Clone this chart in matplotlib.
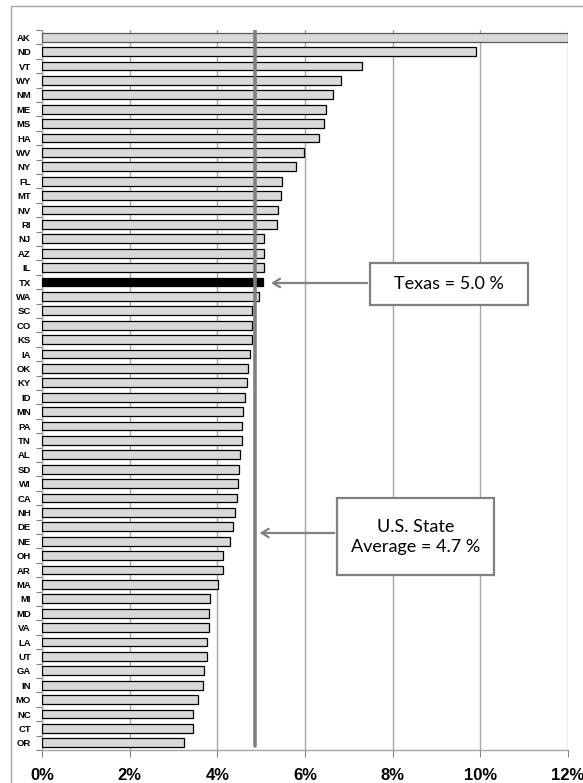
import matplotlib.pyplot as plt
from matplotlib.patches import Rectangle

plt.rcParams['font.family'] = ['Lato', 'DejaVu Sans']
BOLD = ['Liberation Sans', 'DejaVu Sans']

# state values (percent), top to bottom as shown
states = ["AK", "ND", "VT", "WY", "NM", "ME", "MS", "HA", "WV", "NY",
          "FL", "MT", "NV", "RI", "NJ", "AZ", "IL", "TX", "WA", "SC",
          "CO", "KS", "IA", "OK", "KY", "ID", "MN", "PA", "TN", "AL",
          "SD", "WI", "CA", "NH", "DE", "NE", "OH", "AR", "MA", "MI",
          "MD", "VA", "LA", "UT", "GA", "IN", "MO", "NC", "CT", "OR"]
values = [12.0, 9.89, 7.31, 6.82, 6.63, 6.47, 6.44, 6.31, 5.97, 5.80,
          5.48, 5.46, 5.38, 5.36, 5.07, 5.06, 5.06, 5.05, 4.96, 4.79,
          4.78, 4.78, 4.75, 4.69, 4.68, 4.63, 4.59, 4.57, 4.56, 4.52,
          4.50, 4.48, 4.46, 4.41, 4.35, 4.30, 4.14, 4.13, 4.02, 3.84,
          3.81, 3.80, 3.77, 3.77, 3.70, 3.67, 3.56, 3.45, 3.44, 3.25]
highlight = "TX"
avg_line = 4.85
xticks = [0, 2, 4, 6, 8, 10, 12]

W, H = 583, 783
fig = plt.figure(figsize=(W / 100, H / 100), dpi=100)
ax = fig.add_axes([42 / W, (H - 750) / H, 526 / W, 720 / H])

# outer chart frame
fig.patches.append(Rectangle((11 / W, -0.1), 1.2, (H - 6) / H + 0.1,
                             transform=fig.transFigure, fill=False,
                             edgecolor="#a6a6a6", lw=1.0))

pos = list(range(len(states)))
colors = ["black" if s == highlight else "#d9d9d9" for s in states]
edges = ["#595959" if v >= 12 else "black" for v in values]
ax.barh(pos, values, height=0.62, color=colors, edgecolor=edges, lw=0.9, zorder=3)

ax.axvline(avg_line, ymin=0.005, ymax=1.0, color="#808080", lw=2.6,
           solid_capstyle="round", zorder=4)

ax.set_xlim(0, 12)
ax.set_ylim(len(states) - 0.5, -0.5)
ax.set_xticks(xticks)
ax.set_xticklabels([f"{t}%" for t in xticks], fontsize=12, fontweight="bold",
                   family=BOLD)
ax.set_yticks(pos)
ax.set_yticklabels(states, fontsize=6.8, fontweight="bold", family=BOLD)
ax.set_yticks([p + 0.5 for p in [-1] + pos], minor=True)
ax.tick_params(axis="y", which="major", length=0, pad=8)
ax.tick_params(axis="y", which="minor", length=4, color="#808080", width=0.8)
ax.tick_params(axis="x", length=5, color="#808080", width=0.8, pad=8)

ax.grid(axis="x", color="#a6a6a6", lw=1.0, zorder=0)
for side in ["top", "right"]:
    ax.spines[side].set_visible(False)
for side in ["left", "bottom"]:
    ax.spines[side].set_color("#a6a6a6")
    ax.spines[side].set_linewidth(1.0)

# callouts: box, text, arrow
arrow = dict(arrowstyle="->,head_length=0.5,head_width=0.3", color="#808080", lw=1.6)
ax.add_patch(Rectangle((7.48, 15.68), 3.61, 2.92, fc="white", ec="#808080",
                       lw=1.6, zorder=5))
ax.text(9.28, 17.14, "Texas = 5.0 %", ha="center", va="center", fontsize=13, zorder=6)
ax.annotate("", xy=(5.16, 17.07), xytext=(7.48, 17.07), arrowprops=arrow, zorder=5)

ax.add_patch(Rectangle((6.73, 32.0), 3.58, 5.35, fc="white", ec="#808080",
                       lw=1.6, zorder=5))
ax.text(8.52, 34.7, "U.S. State\nAverage = 4.7 %", ha="center", va="center",
        fontsize=13, linespacing=1.35, zorder=6)
ax.annotate("", xy=(avg_line + 0.05, 34.43), xytext=(6.73, 34.43),
            arrowprops=arrow, zorder=5)

plt.savefig("out.png", dpi=100)
